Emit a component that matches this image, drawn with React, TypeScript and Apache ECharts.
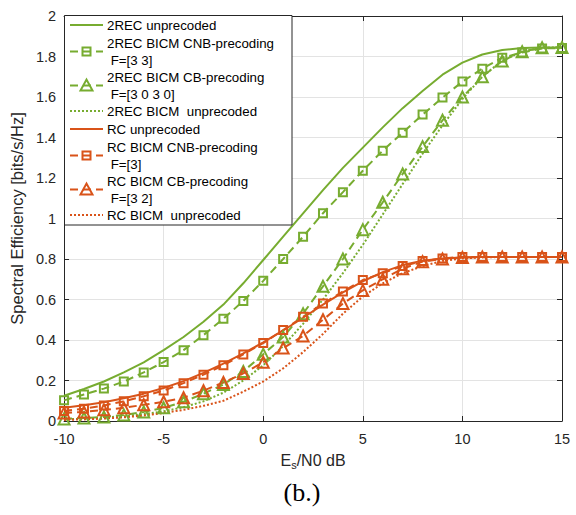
import React, { useEffect, useRef } from "react";
import * as echarts from "echarts";

const snr = [-10, -9, -8, -7, -6, -5, -4, -3, -2, -1, 0, 1, 2, 3, 4, 5, 6, 7, 8, 9, 10, 11, 12, 13, 14, 15];

const rec2Unprecoded = [0.125, 0.158, 0.195, 0.24, 0.29, 0.35, 0.415, 0.49, 0.575, 0.68, 0.795, 0.91, 1.025, 1.14, 1.25, 1.35, 1.45, 1.545, 1.63, 1.71, 1.77, 1.81, 1.832, 1.842, 1.845, 1.845];
const rec2Cnb = [0.102, 0.131, 0.16, 0.195, 0.24, 0.291, 0.35, 0.424, 0.505, 0.593, 0.692, 0.8, 0.91, 1.026, 1.13, 1.236, 1.335, 1.424, 1.513, 1.597, 1.676, 1.74, 1.794, 1.82, 1.84, 1.842];
const rec2Cb = [0.01, 0.015, 0.02, 0.03, 0.045, 0.065, 0.095, 0.135, 0.18, 0.245, 0.33, 0.415, 0.53, 0.665, 0.8, 0.945, 1.08, 1.22, 1.355, 1.485, 1.6, 1.7, 1.778, 1.824, 1.843, 1.845];
const rec2Bicm = [0.008, 0.012, 0.017, 0.024, 0.034, 0.048, 0.068, 0.097, 0.14, 0.2, 0.275, 0.37, 0.48, 0.6, 0.73, 0.87, 1.02, 1.17, 1.32, 1.46, 1.59, 1.7, 1.78, 1.825, 1.843, 1.845];
const rcUnprecoded = [0.065, 0.078, 0.093, 0.112, 0.135, 0.163, 0.197, 0.238, 0.283, 0.334, 0.388, 0.447, 0.51, 0.575, 0.635, 0.69, 0.735, 0.77, 0.792, 0.803, 0.808, 0.81, 0.81, 0.81, 0.81, 0.81];
const rcCnb = [0.049, 0.061, 0.077, 0.097, 0.122, 0.151, 0.187, 0.229, 0.275, 0.329, 0.385, 0.449, 0.515, 0.58, 0.64, 0.696, 0.73, 0.765, 0.79, 0.803, 0.81, 0.81, 0.81, 0.81, 0.81, 0.81];
const rcCb = [0.04, 0.045, 0.055, 0.065, 0.08, 0.095, 0.115, 0.15, 0.19, 0.235, 0.29, 0.36, 0.42, 0.5, 0.58, 0.645, 0.7, 0.752, 0.787, 0.8, 0.808, 0.81, 0.81, 0.81, 0.81, 0.81];
const rcBicm = [0.005, 0.008, 0.012, 0.018, 0.027, 0.04, 0.055, 0.075, 0.1, 0.145, 0.195, 0.26, 0.34, 0.43, 0.53, 0.615, 0.68, 0.73, 0.765, 0.79, 0.803, 0.808, 0.81, 0.81, 0.81, 0.81];

const seriesNames = [
  "2REC unprecoded",
  "2REC BICM CNB-precoding\n F=[3 3]",
  "2REC BICM CB-precoding\n F=[3 0 3 0]",
  "2REC BICM  unprecoded",
  "RC unprecoded",
  "RC BICM CNB-precoding\n F=[3]",
  "RC BICM CB-precoding\n F=[3 2]",
  "RC BICM  unprecoded",
];

const GREEN = "#77AC30";
const ORANGE = "#D95319";
const AXIS = "#262626";
const FONT = "'Liberation Sans', Arial, Helvetica, sans-serif";

type Kind = "solid" | "square" | "triangle" | "dotted";
const kinds: Kind[] = ["solid", "square", "triangle", "dotted", "solid", "square", "triangle", "dotted"];
const colors = [GREEN, GREEN, GREEN, GREEN, ORANGE, ORANGE, ORANGE, ORANGE];
const values = [rec2Unprecoded, rec2Cnb, rec2Cb, rec2Bicm, rcUnprecoded, rcCnb, rcCb, rcBicm];

function pairs(vals: number[]) {
  return snr.map((x, i) => [x, vals[i]]);
}

function dashOf(kind: Kind): any {
  return kind === "solid" ? "solid" : kind === "dotted" ? [2, 2] : [8, 5];
}

function mkSeries(name: string, vals: number[], color: string, kind: Kind) {
  const hasMarker = kind === "square" || kind === "triangle";
  return {
    name,
    type: "line",
    data: pairs(vals),
    xAxisIndex: 0,
    yAxisIndex: 0,
    symbol: kind === "square" ? "rect" : kind === "triangle" ? "triangle" : "none",
    symbolSize: kind === "square" ? 8 : 11,
    showSymbol: hasMarker,
    lineStyle: { color, width: 2, type: dashOf(kind) },
    itemStyle: { color: "rgba(255,255,255,0)", borderColor: color, borderWidth: 2 },
    emphasis: { disabled: true },
    silent: true,
  };
}

function legendGraphics() {
  const left = 64.5;
  const top = 15.5;
  const els: any[] = [
    {
      type: "rect",
      z: 100,
      shape: { x: left, y: top, width: 227.5, height: 209.5 },
      style: { fill: "#fff", stroke: AXIS, lineWidth: 1 },
    },
  ];
  const textY = [[25], [43, 60], [77, 94], [111], [129], [147, 164], [181, 198], [215]];
  const lx1 = 70;
  const lx2 = 103;
  const mx = 86.5;
  seriesNames.forEach((name, i) => {
    const ys = textY[i];
    const yc = (ys[0] + ys[ys.length - 1]) / 2;
    const kind = kinds[i];
    const color = colors[i];
    const dash = kind === "solid" ? null : kind === "dotted" ? [2, 2] : [8, 5];
    els.push({
      type: "line",
      z: 101,
      shape: { x1: lx1, y1: yc, x2: lx2, y2: yc },
      style: { stroke: color, lineWidth: 2, lineDash: dash },
    });
    if (kind === "square") {
      els.push({
        type: "rect",
        z: 102,
        shape: { x: mx - 4, y: yc - 4, width: 8, height: 8 },
        style: { fill: "rgba(255,255,255,0)", stroke: color, lineWidth: 2 },
      });
    } else if (kind === "triangle") {
      els.push({
        type: "polygon",
        z: 102,
        shape: { points: [[mx - 6, yc + 5], [mx + 6, yc + 5], [mx, yc - 6]] },
        style: { fill: "rgba(255,255,255,0)", stroke: color, lineWidth: 2 },
      });
    }
    name.split("\n").forEach((line, j) => {
      els.push({
        type: "text",
        z: 102,
        x: 107,
        y: ys[j],
        style: {
          text: line,
          fill: "#000",
          font: `13.3px ${FONT}`,
          verticalAlign: "middle",
          align: "left",
        },
      });
    });
  });
  return els;
}

export default function App() {
  const ref = useRef<HTMLDivElement>(null);
  useEffect(() => {
    if (!ref.current) return;
    const chart = echarts.init(ref.current, null, { renderer: "svg" });
    const tickFmt = (v: number) => String(+(+v).toFixed(1));
    const option: any = {
      animation: false,
      backgroundColor: "#fff",
      textStyle: { fontFamily: FONT },
      grid: { left: 63, right: 14, top: 16, bottom: 94, containLabel: false },
      xAxis: [
        {
          type: "value",
          min: -10,
          max: 15,
          interval: 5,
          position: "bottom",
          name: "{a|E}{b|s}{a|/N0 dB}",
          nameLocation: "middle",
          nameGap: 29.5,
          nameTextStyle: {
            rich: {
              a: { fontSize: 16, color: AXIS, fontFamily: FONT, lineHeight: 20, verticalAlign: "middle" },
              b: { fontSize: 11, color: AXIS, fontFamily: FONT, lineHeight: 8, verticalAlign: "bottom" },
            },
          },
          axisLine: { show: true, onZero: false, lineStyle: { color: AXIS, width: 1 } },
          axisTick: { show: true, inside: true, length: 5, lineStyle: { color: AXIS } },
          axisLabel: { color: AXIS, fontSize: 14.5, margin: 10, fontFamily: FONT, formatter: tickFmt },
          splitLine: { show: true, lineStyle: { color: "#e3e3e3", width: 1 } },
        },
        {
          type: "value",
          min: -10,
          max: 15,
          interval: 5,
          position: "top",
          axisLine: { show: true, onZero: false, lineStyle: { color: AXIS, width: 1 } },
          axisTick: { show: true, inside: true, length: 5, lineStyle: { color: AXIS } },
          axisLabel: { show: false },
          splitLine: { show: false },
        },
      ],
      yAxis: [
        {
          type: "value",
          min: 0,
          max: 2,
          interval: 0.2,
          position: "left",
          name: "Spectral Efficiency [bits/s/Hz]",
          nameLocation: "middle",
          nameGap: 34,
          nameTextStyle: { color: AXIS, fontSize: 16.5, fontFamily: FONT },
          axisLine: { show: true, onZero: false, lineStyle: { color: AXIS, width: 1 } },
          axisTick: { show: true, inside: true, length: 5, lineStyle: { color: AXIS } },
          axisLabel: { color: AXIS, fontSize: 14.5, margin: 8, fontFamily: FONT, formatter: tickFmt },
          splitLine: { show: true, lineStyle: { color: "#e3e3e3", width: 1 } },
        },
        {
          type: "value",
          min: 0,
          max: 2,
          interval: 0.2,
          position: "right",
          axisLine: { show: true, onZero: false, lineStyle: { color: AXIS, width: 1 } },
          axisTick: { show: true, inside: true, length: 5, lineStyle: { color: AXIS } },
          axisLabel: { show: false },
          splitLine: { show: false },
        },
      ],
      series: seriesNames.map((n, i) => mkSeries(n, values[i], colors[i], kinds[i])),
      graphic: [
        ...legendGraphics(),
        {
          type: "text",
          x: 302,
          y: 492,
          style: {
            text: "(b.)",
            fill: "#000",
            font: "26px 'Liberation Serif', 'DejaVu Serif', serif",
            align: "center",
            verticalAlign: "middle",
          },
        },
      ],
    };
    chart.setOption(option);
    return () => chart.dispose();
  }, []);
  return <div ref={ref} style={{ width: 576, height: 515, position: "absolute", left: 0, top: 0 }} />;
}
